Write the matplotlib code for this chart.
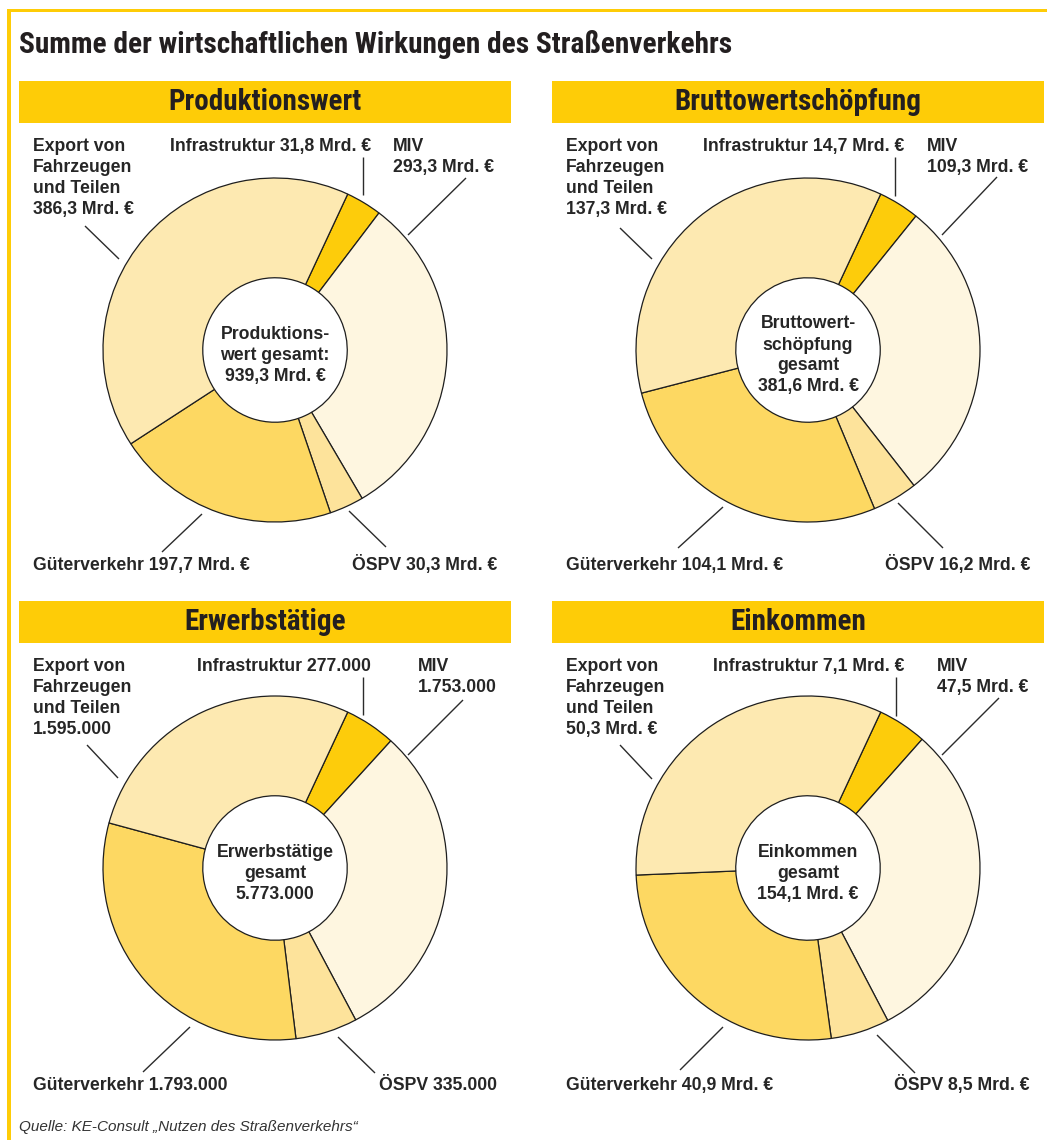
import matplotlib
matplotlib.use("Agg")
import matplotlib.pyplot as plt
from matplotlib import font_manager as fm
from matplotlib.patches import Rectangle

# ----- Data -----
panel_titles = ["Produktionswert", "Bruttowertschöpfung", "Erwerbstätige", "Einkommen"]
segments = ["Infrastruktur", "MIV", "ÖSPV", "Güterverkehr", "Export von Fahrzeugen und Teilen"]

produktionswert = [31.8, 293.3, 30.3, 197.7, 386.3]
bruttowertschoepfung = [14.7, 109.3, 16.2, 104.1, 137.3]
erwerbstaetige = [277000, 1753000, 335000, 1793000, 1595000]
einkommen = [7.1, 47.5, 8.5, 40.9, 50.3]

totals = [939.3, 381.6, 5773000, 154.1]
units = ["mrd", "mrd", "count", "mrd"]
center_captions = [
    ["Produktions-", "wert gesamt:"],
    ["Bruttowert-", "schöpfung", "gesamt"],
    ["Erwerbstätige", "gesamt"],
    ["Einkommen", "gesamt"],
]

title = "Summe der wirtschaftlichen Wirkungen des Straßenverkehrs"
source = "Quelle: KE-Consult \u201eNutzen des Straßenverkehrs\u201c"

# ----- Style -----
W, H = 1047, 1140
YELLOW = "#FECC07"
seg_colors = ["#FDCC0B", "#FEF6E0", "#FDE39B", "#FDD862", "#FDE9B1"]
TXT = "#262626"


def pick_font(candidates, fallback="DejaVu Sans"):
    names = {f.name for f in fm.fontManager.ttflist}
    for c in candidates:
        if c in names:
            return c
    return fallback


COND = pick_font(["Liberation Sans Narrow", "DejaVu Sans Condensed", "Roboto Condensed"])
BODY = pick_font(["Liberation Sans", "Arimo", "Roboto"])


def fmt(v, unit):
    if unit == "mrd":
        return f"{v:.1f}".replace(".", ",") + " Mrd. €"
    return f"{int(v):,}".replace(",", ".")


# ----- Figure -----
fig = plt.figure(figsize=(W / 100, H / 100), dpi=100)
fig.patch.set_facecolor("white")

centers = [(275, 350), (808, 350), (275, 868), (808, 868)]
offsets = [(0, 0), (533, 0), (0, 520), (533, 520)]
R = 172
pad = 1.03
all_values = [produktionswert, bruttowertschoepfung, erwerbstaetige, einkommen]

for (cx, cy), vals in zip(centers, all_values):
    p = R * pad
    pax = fig.add_axes([(cx - p) / W, 1 - (cy + p) / H, 2 * p / W, 2 * p / H])
    pax.pie(vals, colors=seg_colors, startangle=65, counterclock=False, radius=1,
            wedgeprops=dict(width=0.58, edgecolor="#1e1e1e", linewidth=0.9))
    pax.set_xlim(-pad, pad)
    pax.set_ylim(-pad, pad)
    pax.set_aspect("equal")
    pax.axis("off")

# overlay in pixel coordinates
ax = fig.add_axes([0, 0, 1, 1], facecolor="none")
ax.set_xlim(0, W)
ax.set_ylim(H, 0)
ax.axis("off")

# frame lines
ax.add_patch(Rectangle((7, 9), W - 7, 3, color=YELLOW, lw=0))
ax.add_patch(Rectangle((7, 9), 4, H - 9, color=YELLOW, lw=0))

ax.text(19, 53, title, fontsize=21.2, fontweight="bold", family=COND, color="#231f20",
        va="baseline", ha="left")

LINE = 21
FS = 12.7


def lines(x, y, rows, ha="left", **kw):
    for i, row in enumerate(rows):
        ax.text(x, y + i * LINE, row, fontsize=FS, fontweight="bold", family=BODY,
                color=TXT, ha=ha, va="baseline", **kw)


miv_x = [393, 927, 418, 937]
leaders = [
    [((85, 226), (119, 259)), ((363, 157), (363, 195)), ((466, 178), (408, 235)),
     ((162, 552), (202, 514)), ((349, 511), (386, 547))],
    [((620, 228), (652, 259)), ((895, 157), (895, 196)), ((997, 177), (942, 235)),
     ((678, 548), (723, 507)), ((898, 503), (943, 548))],
    [((87, 745), (118, 778)), ((363, 677), (363, 715)), ((463, 700), (408, 755)),
     ((143, 1072), (190, 1027)), ((338, 1037), (375, 1073))],
    [((620, 745), (652, 779)), ((896, 677), (896, 716)), ((999, 698), (942, 755)),
     ((680, 1070), (723, 1027)), ((877, 1035), (915, 1073))],
]

for k in range(4):
    dx, dy = offsets[k]
    vals = all_values[k]
    unit = units[k]
    cx, cy = centers[k]

    # header bar
    ax.add_patch(Rectangle((19 + dx, 81 + dy), 492, 42, color=YELLOW, lw=0))
    ax.text(265 + dx, 110 + dy, panel_titles[k], fontsize=21, fontweight="bold",
            family=COND, color="#231f20", ha="center", va="baseline")

    # segment labels
    lines(33 + dx, 151 + dy, ["Export von", "Fahrzeugen", "und Teilen", fmt(vals[4], unit)])
    lines(371 + dx, 151 + dy, [f"{segments[0]} {fmt(vals[0], unit)}"], ha="right")
    lines(miv_x[k], 151 + dy, [segments[1], fmt(vals[1], unit)])
    lines(33 + dx, 570 + dy, [f"{segments[3]} {fmt(vals[3], unit)}"])
    lines(497 + dx, 570 + dy, [f"{segments[2]} {fmt(vals[2], unit)}"], ha="right")

    for (x0, y0), (x1, y1) in leaders[k]:
        ax.plot([x0, x1], [y0, y1], color="#2b2b2b", lw=1.0, solid_capstyle="butt")

    # centre caption
    rows = center_captions[k] + [fmt(totals[k], unit)]
    n = len(rows)
    for i, row in enumerate(rows):
        yb = cy + 10 + (i - (n - 1) / 2) * LINE
        ax.text(cx, yb, row, fontsize=FS, fontweight="bold", family=BODY, color=TXT,
                ha="center", va="baseline")

ax.text(19, 1131, source, fontsize=11, style="italic", family=BODY, color="#333333",
        ha="left", va="baseline")

fig.savefig("out.png", dpi=100, facecolor="white")
